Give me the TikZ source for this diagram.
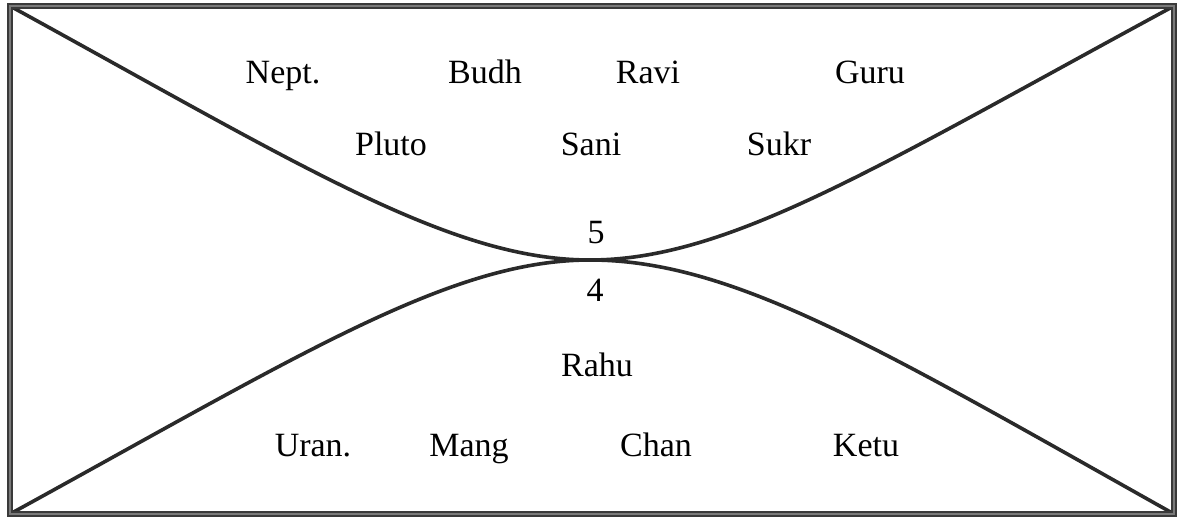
\documentclass[tikz,border=0pt]{standalone}
\usepackage{fontspec}
\setmainfont{Liberation Serif}
\definecolor{lineclr}{HTML}{2A2A2A}
\definecolor{frameclr}{HTML}{3A3A3A}
\definecolor{framein}{HTML}{7A7A7A}
\begin{document}
\begin{tikzpicture}[x=1pt,y=-1pt,
  planet/.style={font=\fontsize{34}{38}\selectfont, inner sep=0pt, anchor=base, text=black},
  curveline/.style={draw=lineclr, line width=3.6pt, line cap=round}]
\useasboundingbox (0,0) rectangle (1180,518);
\coordinate (tl) at (10,6);
\coordinate (tr) at (1174,6);
\coordinate (bl) at (10,514);
\coordinate (br) at (1174,514);
\coordinate (c) at (590,260);
% curves
\draw[curveline] (tl) .. controls (300,165) and (450,260) .. (c)
  .. controls (730,260) and (880,165) .. (tr);
\draw[curveline] (bl) .. controls (300,355) and (450,260) .. (c)
  .. controls (735,260) and (885,352) .. (br);
% frame
\draw[draw=frameclr, line width=6pt] (tl) rectangle (br);
\draw[draw=framein, line width=1.6pt] (tl) rectangle (br);
% labels
\node[planet] (nept) at (283,84) {Nept.};
\node[planet] (budh) at (485,84) {Budh};
\node[planet] (ravi) at (648,84) {Ravi};
\node[planet] (guru) at (870,84) {Guru};
\node[planet] (pluto) at (391,156) {Pluto};
\node[planet] (sani) at (591,156) {Sani};
\node[planet] (sukr) at (779,156) {Sukr};
\node[planet] (h5) at (596,244) {5};
\node[planet] (h4) at (595,302) {4};
\node[planet] (rahu) at (597,377) {Rahu};
\node[planet] (uran) at (313,456) {Uran.};
\node[planet] (mang) at (469,456) {Mang};
\node[planet] (chan) at (656,456) {Chan};
\node[planet] (ketu) at (866,456) {Ketu};
\end{tikzpicture}
\end{document}
